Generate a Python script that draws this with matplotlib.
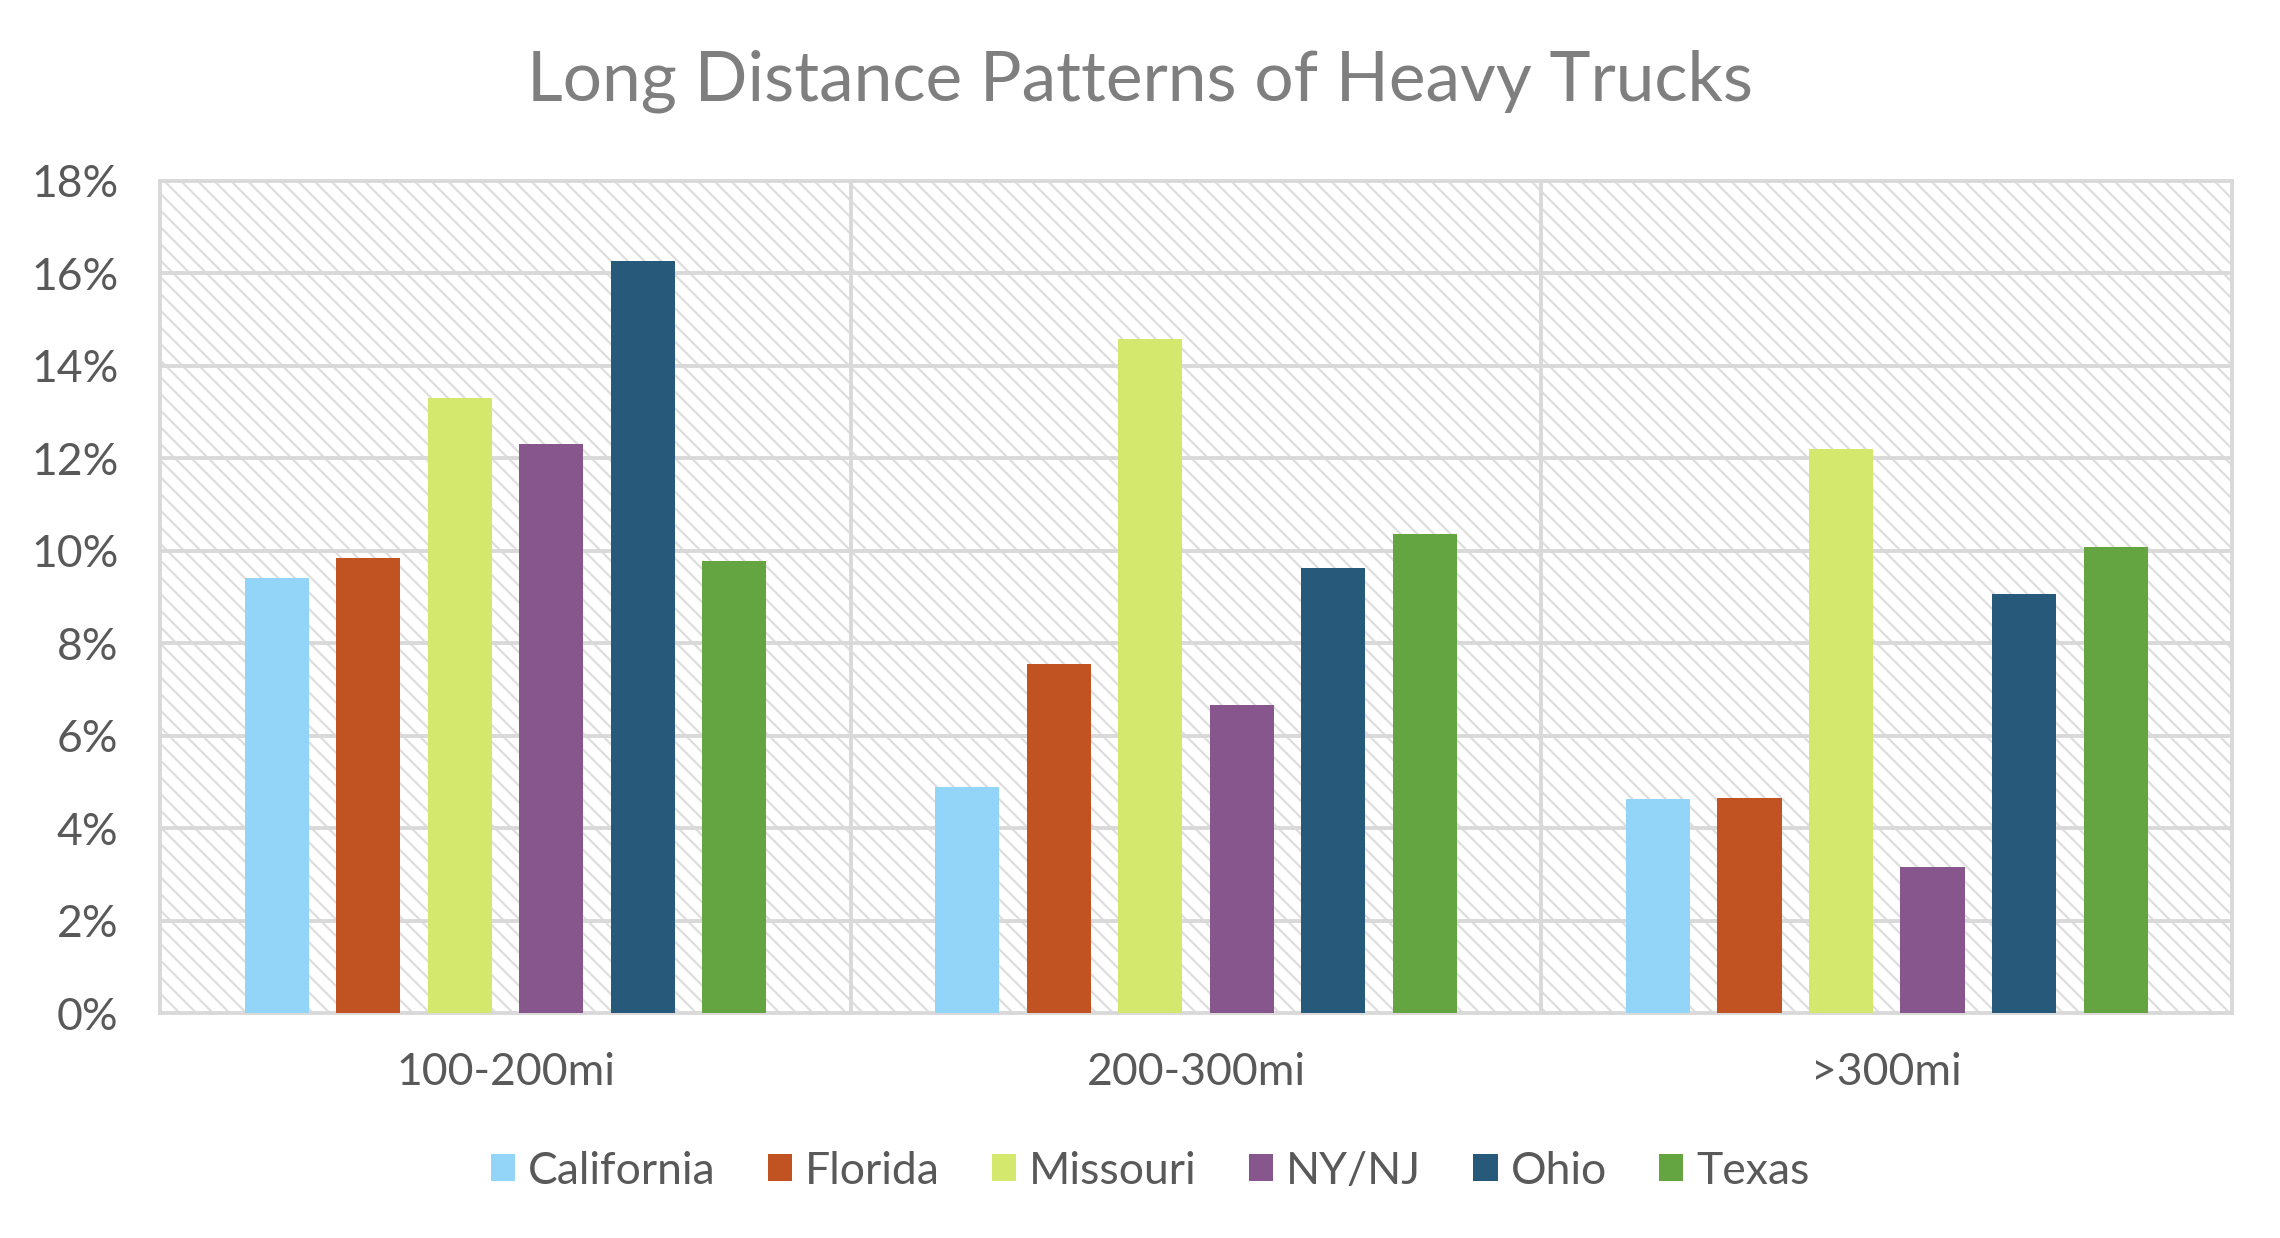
import matplotlib
matplotlib.use("Agg")
import matplotlib.pyplot as plt
from matplotlib.patches import Rectangle
from matplotlib.ticker import FuncFormatter
import numpy as np

# --------------------------------------------------------
# Data
# --------------------------------------------------------

categories = ["100-200mi", "200-300mi", ">300mi"]

states = ["California", "Florida", "Missouri", "NY/NJ", "Ohio", "Texas"]

california = [9.42, 4.88, 4.63]
florida = [9.85, 7.55, 4.65]
missouri = [13.31, 14.59, 12.21]
nynj = [12.32, 6.67, 3.16]
ohio = [16.28, 9.63, 9.07]
texas = [9.78, 10.37, 10.09]

series = [california, florida, missouri, nynj, ohio, texas]

colors = ["#92D5F9", "#C05321", "#D4E86E", "#86568C", "#275A7A", "#64A441"]

# --------------------------------------------------------
# Figure
# --------------------------------------------------------

plt.rcParams["font.family"] = ["Lato", "DejaVu Sans"]
plt.rcParams["hatch.linewidth"] = 1.6
plt.rcParams["hatch.color"] = "#DEDEDE"

grid_color = "#D9D9D9"
text_color = "#595959"

fig = plt.figure(figsize=(22.8, 12.38), dpi=100)
ax = fig.add_axes([0.0702, 0.1817, 0.9088, 0.6721])

# hatched background
ax.patch.set_facecolor("white")
ax.add_patch(Rectangle((0, 0), 1, 1, transform=ax.transAxes,
                       facecolor="white", edgecolor="#DEDEDE",
                       hatch="\\\\", linewidth=0, zorder=0))

x = np.arange(len(categories))
width = 0.0928
pitch = 0.1325

for i, (vals, name, col) in enumerate(zip(series, states, colors)):
    ax.bar(x + (i - 2.5) * pitch, vals, width, color=col, label=name, zorder=3)

ax.set_xlim(-0.5, 2.5)
ax.set_ylim(0, 18)
ax.set_yticks(np.arange(0, 19, 2))
ax.yaxis.set_major_formatter(FuncFormatter(lambda v, p: f"{v:.0f}%"))
ax.set_xticks(x)
ax.set_xticklabels(categories)

# gridlines
for yv in np.arange(2, 18, 2):
    ax.axhline(yv, color=grid_color, linewidth=2.8, zorder=1)
for xv in [0.5, 1.5]:
    ax.axvline(xv, color=grid_color, linewidth=2.8, zorder=1)

for side in ["left", "right", "top", "bottom"]:
    ax.spines[side].set_color(grid_color)
    ax.spines[side].set_linewidth(2.8)
    ax.spines[side].set_zorder(2)

ax.tick_params(axis="both", length=0, labelsize=32, labelcolor=text_color)
ax.tick_params(axis="x", pad=28)
ax.tick_params(axis="y", pad=30)

fig.text(0.5, 0.919, "Long Distance Patterns of Heavy Trucks",
         ha="center", va="baseline", fontsize=50, color="#7F7F7F")

leg = fig.legend(loc="center", bbox_to_anchor=(0.5044, 1 - 1171 / 1238),
                 ncol=6, frameon=False, fontsize=32,
                 handlelength=0.55, handleheight=0.55,
                 handletextpad=0.29, columnspacing=1.17)
for t in leg.get_texts():
    t.set_color(text_color)

fig.savefig("out.png", dpi=100)
